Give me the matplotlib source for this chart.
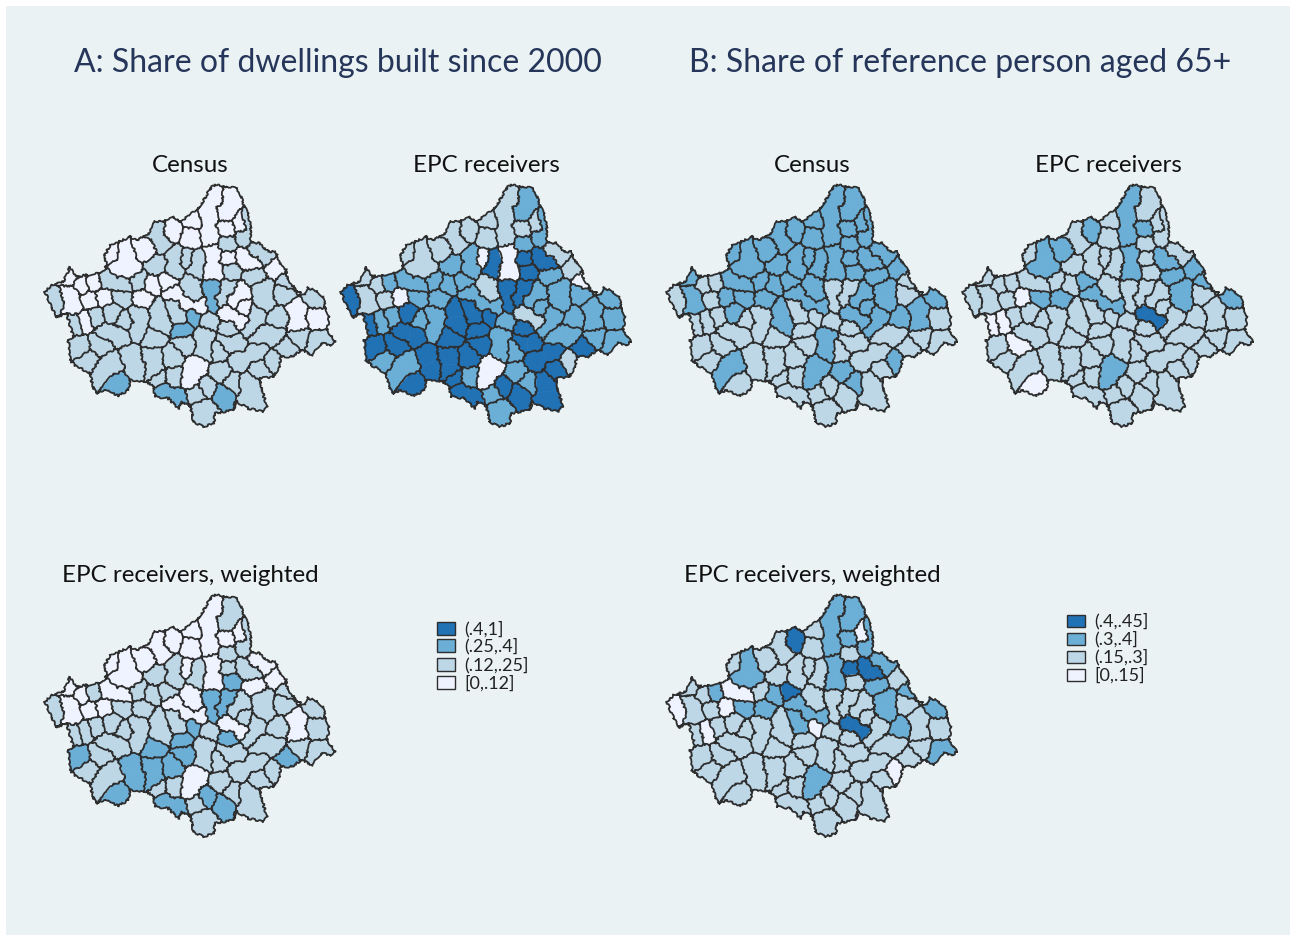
# -*- coding: utf-8 -*-
"""
plot.py - Six petites cartes choroplethes (dwellings built since 2000, reference person 65+).
Les zones sont construites depuis des points de repere lus sur l'image.
"""

import numpy as np
import matplotlib
matplotlib.use("Agg")
import matplotlib.pyplot as plt
from matplotlib.collections import PolyCollection
from matplotlib.patches import Rectangle

plt.rcParams["font.family"] = ["Lato", "DejaVu Sans"]

# Couleurs des classes (0 = plus clair)
CLASS_COLORS = ["#eff3ff", "#bdd7e7", "#6baed6", "#2171b5"]
BG_COLOR = "#eaf2f3"
TITLE_COLOR = "#26365a"
LINE_COLOR = "#2e2e2e"

# Contour du territoire (pixels, zoom x3 de la carte)
outline = [(525,15),(560,20),(590,25),(605,50),(612,80),(625,100),(632,140),(632,185),(660,190),(685,215),
           (705,215),(722,250),(738,270),(742,295),(760,320),(775,345),(795,340),(802,322),(830,335),(850,350),
           (855,380),(868,410),(862,450),(875,470),(885,485),(870,495),(845,490),(815,525),(785,510),(755,530),
           (722,530),(718,560),(700,590),(660,595),(665,625),(680,680),(668,695),(625,685),(590,665),(580,690),
           (525,700),(522,730),(490,740),(460,725),(452,680),(425,665),(415,685),(385,655),(345,650),(340,620),
           (320,605),(270,600),(265,630),(235,648),(195,630),(170,640),(160,625),(150,580),(105,555),(90,540),
           (85,480),(100,470),(80,400),(50,412),(35,385),(15,335),(35,315),(70,305),(90,262),(110,290),
           (175,280),(200,265),(195,225),(210,195),(250,180),(270,170),(290,180),(325,160),(345,125),(370,125),
           (400,110),(420,125),(470,90),(495,55),(510,25)]

# Points de repere de chaque zone (une zone peut en avoir plusieurs)
region_seeds = [
    [(520,50),(505,105),(510,165)], [(575,55),(560,100)], [(600,130)], [(560,145)], [(625,125),(615,175)],
    [(565,195)], [(455,115)], [(450,175)], [(395,155)], [(350,150),(365,190)],
    [(320,210)], [(250,230),(270,270),(235,260)], [(215,225)], [(350,255)], [(410,230),(405,270)],
    [(440,235)], [(470,240),(470,270)], [(520,225),(510,275),(530,275)], [(565,235)], [(570,275)],
    [(610,230),(640,250)], [(650,210),(675,230)], [(705,260)], [(645,285)], [(745,308)],
    [(670,330),(670,370)], [(735,340)], [(770,390),(775,430)], [(825,355)], [(825,415)],
    [(715,415)], [(600,340),(580,365)], [(610,385)], [(555,392),(575,405),(600,425)], [(650,400),(630,450)],
    [(565,325),(545,365)], [(515,325),(520,375)], [(450,310),(460,345)], [(400,340),(440,370),(480,380)], [(385,305)],
    [(335,315)], [(295,305)], [(310,355)], [(200,300),(250,320)], [(160,310)],
    [(125,315)], [(90,290)], [(90,345),(100,375)], [(45,360)], [(150,360)],
    [(190,352)], [(245,350)], [(215,400)], [(165,410)], [(135,420)],
    [(100,430)], [(255,425)], [(295,410),(290,450)], [(360,390),(365,430)], [(395,380),(420,410)],
    [(458,412)], [(430,450)], [(508,420)], [(570,445)], [(650,470),(700,465)],
    [(780,470)], [(830,485)], [(740,505)], [(700,545)], [(590,490),(560,490)],
    [(600,540),(650,515)], [(660,570)], [(625,610),(630,660)], [(490,470),(497,510)], [(535,510)],
    [(435,490)], [(395,530)], [(340,475)], [(340,530),(340,575)], [(270,530),(290,570)],
    [(470,560),(450,600)], [(540,580)], [(575,610)], [(400,595)], [(355,595)],
    [(375,635),(410,655)], [(232,610)], [(190,575),(220,550)], [(140,545)], [(115,505)],
    [(185,490)], [(200,460),(240,465)], [(500,620)], [(470,640)], [(550,640)],
    [(490,690),(490,720)],
]

# Classe de chaque zone, une liste par carte
census_a = [0,0,0,0,1,1,0,0,0,1, 0,0,0,1,1,1,1,0,0,1, 0,1,0,1,1,1,1,0,1,0, 1,0,0,0,1,1,2,1,0,0,
            0,1,0,1,0,0,0,0,1,0, 0,1,1,1,0,1,1,1,1,1, 2,2,1,1,1,1,1,1,1,1, 1,1,1,1,1,1,1,1,1,1,
            0,1,1,1,1,2,2,1,1,1, 1,1,1,1,2,1]
epc_a = [1,2,1,1,2,2,1,1,1,1, 1,1,1,2,2,0,3,0,3,3, 3,1,1,2,0,2,2,2,2,2, 2,2,2,1,2,3,3,1,2,2,
         2,2,2,2,2,1,1,1,3,1, 0,2,3,2,2,3,2,2,3,3, 3,3,2,3,2,2,2,3,1,3, 3,3,3,2,2,3,3,3,3,3,
         0,2,2,2,3,3,3,2,2,3, 3,3,3,2,3,2]
weighted_a = [0,1,0,0,1,1,0,0,0,0, 0,0,0,1,1,0,1,0,1,2, 1,0,0,0,1,1,1,0,1,1, 1,1,1,0,1,2,2,0,0,1,
              1,1,1,0,1,0,0,0,1,0, 0,1,1,1,1,1,1,1,1,1, 2,2,1,2,1,1,1,2,1,1, 1,1,1,1,1,2,2,2,2,2,
              0,1,1,1,1,2,2,1,1,2, 1,1,2,1,2,1]
census_b = [2,2,2,2,2,2,2,2,2,2, 2,2,2,2,2,2,2,2,2,2, 2,2,2,2,1,2,1,2,2,1, 2,2,2,2,2,1,1,2,2,2,
            2,2,2,2,1,1,2,2,1,1, 2,2,2,1,1,1,1,1,2,1, 1,1,1,1,1,1,1,1,2,1, 1,1,1,2,1,1,1,1,1,1,
            2,2,2,1,1,1,1,2,1,1, 1,1,1,1,1,1]
epc_b = [2,1,1,2,1,1,1,1,2,1, 2,2,1,1,1,1,1,2,1,1, 2,1,2,2,2,2,1,1,2,1, 1,1,1,3,1,1,1,1,2,2,
         1,1,2,1,1,1,1,1,1,1, 0,2,1,1,0,0,1,1,1,1, 1,1,1,1,1,1,1,1,1,1, 1,1,1,1,1,1,1,1,1,1,
         2,1,1,1,1,1,0,1,1,1, 0,1,1,1,1,1]
weighted_b = [2,2,0,2,2,1,1,1,3,1, 1,2,1,1,1,1,1,2,3,1, 3,2,1,2,2,2,1,1,2,1, 2,1,1,3,1,1,1,1,2,3,
              2,1,2,0,2,1,1,1,0,1, 0,2,1,1,0,1,1,1,1,2, 0,1,1,1,1,1,2,1,0,1, 1,1,1,1,1,1,1,1,1,1,
              2,1,1,1,1,1,1,1,1,1, 1,1,1,1,1,1]

# Legendes (de la classe foncee vers la claire)
legend_a = ["(.4,1]", "(.25,.4]", "(.12,.25]", "[0,.12]"]
legend_b = ["(.4,.45]", "(.3,.4]", "(.15,.3]", "[0,.15]"]


def clip_half_plane(poly, a, b):
    """Garde la partie du polygone plus proche de a que de b."""
    mid = (a + b) / 2
    normal = b - a
    out = []
    for i in range(len(poly)):
        p, q = poly[i], poly[(i + 1) % len(poly)]
        dp, dq = np.dot(p - mid, normal), np.dot(q - mid, normal)
        if dp <= 0:
            out.append(p)
        if dp * dq < 0:
            out.append(p + (q - p) * dp / (dp - dq))
    return out


def build_cells():
    """Decoupe le contour en cellules, et garde les traits entre zones differentes."""
    seeds = np.array([s for zone in region_seeds for s in zone], dtype=float)
    owner = np.array([i for i, zone in enumerate(region_seeds) for _ in zone])
    base = [np.array(p, dtype=float) for p in outline]
    cells, segments = [], []
    for k, seed in enumerate(seeds):
        poly = base
        for j, other in enumerate(seeds):
            if j != k and len(poly) > 0:
                poly = clip_half_plane(poly, seed, other)
        if len(poly) < 3:
            cells.append(None)
            continue
        cells.append(np.array(poly))
        for i in range(len(poly)):
            p, q = poly[i], poly[(i + 1) % len(poly)]
            m = (p + q) / 2
            d = np.hypot(*(seeds - m).T)
            d[k] = np.inf
            j = int(np.argmin(d))
            shared = abs(d[j] - np.hypot(*(seed - m))) < 1e-6
            if shared and (owner[j] == owner[k] or j < k):
                continue
            segments.append((p, q))
    return cells, owner, segments


def draw_map(ax, cells, owner, segments, classes, x0, y0):
    """Dessine une carte, origine (x0, y0) en pixels de la figure."""
    origin = np.array([x0, y0])
    polys, colors = [], []
    for cell, zone in zip(cells, owner):
        if cell is not None:
            polys.append(origin + cell / 3)
            colors.append(CLASS_COLORS[classes[zone]])
    ax.add_collection(PolyCollection(polys, facecolors=colors, edgecolors=colors, linewidths=0.4))
    xs, ys = [], []
    for p, q in segments:
        xs += [x0 + p[0] / 3, x0 + q[0] / 3, np.nan]
        ys += [y0 + p[1] / 3, y0 + q[1] / 3, np.nan]
    line, = ax.plot(xs, ys, color=LINE_COLOR, linewidth=1.3, solid_joinstyle="round")
    line.set_sketch_params(scale=1.0, length=9, randomness=20)


def draw_legend(ax, labels, x, y_tops, w, h):
    """Legende a cases, classe foncee en haut."""
    for label, y, color in zip(labels, y_tops, CLASS_COLORS[::-1]):
        ax.add_patch(Rectangle((x, y), w, h, facecolor=color, edgecolor=LINE_COLOR, linewidth=1.0))
        ax.text(x + w + 9, y + h / 2 + 0.5, label, fontsize=13, color="#222222", va="center", ha="left")


def main():
    fig = plt.figure(figsize=(12.9, 9.38), dpi=100, facecolor="white")
    ax = fig.add_axes([0, 0, 1, 1])
    ax.set_xlim(0, 1290)
    ax.set_ylim(938, 0)
    ax.axis("off")
    ax.add_patch(Rectangle((6, 6), 1284, 929, facecolor=BG_COLOR, edgecolor="none"))

    cells, owner, segments = build_cells()
    draw_map(ax, cells, owner, segments, census_a, 40, 180)
    draw_map(ax, cells, owner, segments, epc_a, 336, 180)
    draw_map(ax, cells, owner, segments, weighted_a, 40, 590)
    draw_map(ax, cells, owner, segments, census_b, 662, 180)
    draw_map(ax, cells, owner, segments, epc_b, 958, 180)
    draw_map(ax, cells, owner, segments, weighted_b, 662, 590)

    ax.text(338, 63, "A: Share of dwellings built since 2000", fontsize=23, color=TITLE_COLOR, ha="center", va="center")
    ax.text(960, 63, "B: Share of reference person aged 65+", fontsize=23, color=TITLE_COLOR, ha="center", va="center")

    for x, y, label in [(190, 166, "Census"), (486, 166, "EPC receivers"), (190, 576, "EPC receivers, weighted"),
                        (812, 166, "Census"), (1108, 166, "EPC receivers"), (812, 576, "EPC receivers, weighted")]:
        ax.text(x, y, label, fontsize=17.4, color="#111111", ha="center", va="center")

    draw_legend(ax, legend_a, 437, [622, 639.5, 658, 676.5], 18, 13)
    draw_legend(ax, legend_b, 1067, [615, 633, 651, 669], 18, 12)

    fig.savefig("out.png", dpi=100, facecolor="white")
    plt.close(fig)


if __name__ == "__main__":
    main()
